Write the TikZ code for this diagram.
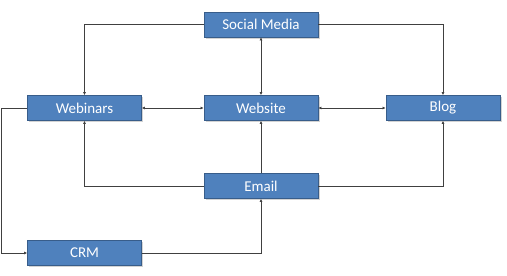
\documentclass[tikz,border=0pt]{standalone}
\usepackage{fontspec}
\setmainfont{Carlito}
\usepackage{tikz}
\usetikzlibrary{arrows.meta, shadows}
\definecolor{boxblue}{HTML}{4F81BD}
\definecolor{boxedge}{HTML}{385D8A}
\definecolor{linegray}{HTML}{404040}

\begin{document}
\begin{tikzpicture}[x=1pt, y=-1pt,
		channel/.style={draw=boxedge, line width=0.8pt, fill=boxblue, text=white, minimum width=114pt, minimum height=25pt, inner sep=0pt, font=\fontsize{15}{18}\selectfont, drop shadow={shadow xshift=1.5pt, shadow yshift=-1.5pt, opacity=0.35}},
		link/.style={draw=linegray, line width=0.6pt, -{Latex[length=3pt, width=3pt]}},
		both/.style={link, {Latex[length=3pt, width=3pt]}-{Latex[length=3pt, width=3pt]}}]
			\useasboundingbox (0,0) rectangle (507,276);
			\node[channel] (social) at (261,24.5) {Social Media};
			\node[channel] (webinars) at (84.5,108) {Webinars};
			\node[channel] (website) at (261,108) {Website};
			\node[channel] (blog) at (443,108) {Blog};
			\node[channel] (email) at (261,186) {Email};
			\node[channel] (crm) at (84.5,253) {CRM};
			\draw[link] (social.west) -| (webinars.north);
			\draw[link] (social.east) -| (blog.north);
			\draw[both] (social) -- (website);
			\draw[both] (webinars) -- (website);
			\draw[both] (website) -- (blog);
			\draw[link] (email) -- (website);
			\draw[link] (email.west) -| (webinars.south);
			\draw[link] (email.east) -| (blog.south);
			\coordinate (bend) at (1,108);
			\draw[link] (webinars.west) -- (bend) |- (crm.west);
			\draw[link] (crm.east) -| (email.south);
		\end{tikzpicture}
\end{document}
